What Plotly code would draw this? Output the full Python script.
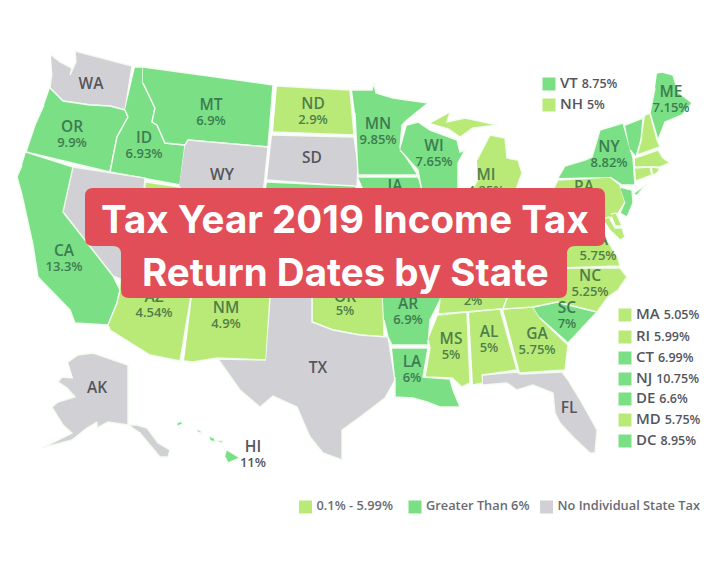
import plotly.graph_objects as go

# --- data ----------------------------------------------------------------
# state -> printed top income tax rate (None = no individual state tax)
rates = {
 "WA":None,"OR":9.9,"CA":13.3,"NV":None,"ID":6.93,"MT":6.9,"WY":None,"UT":4.95,"AZ":4.54,"NM":4.9,
 "ND":2.9,"SD":None,"NE":6.84,"KS":5.7,"OK":5,"TX":None,"MN":9.85,"IA":8.98,"MO":5.4,"AR":6.9,"LA":6,
 "WI":7.65,"IL":4.95,"MI":4.25,"IN":3.23,"OH":4.8,"KY":5,"TN":2,"MS":5,"AL":5,"GA":5.75,"FL":None,
 "SC":7,"NC":5.25,"VA":5.75,"WV":5.5,"PA":3.07,"NY":8.82,"ME":7.15,"AK":None,"HI":11,"CO":4.63,
 "VT":8.75,"NH":5,"MA":5.05,"RI":5.99,"CT":6.99,"NJ":10.75,"DE":6.6,"MD":5.75,
}
# states the picture's map paints in the lighter green despite their printed rate
painted_light = ["CT","DE"]
# outlines (no base map can be fetched offline)
outlines = {
 "WA":[(51,55),(60,62),(72,68),(70,75),(76,62),(75,51),(132,66),(125,110),(110,106),(90,105),(63,101),(50,88),(52,73)],
 "OR":[(50,88),(63,101),(90,105),(110,106),(125,110),(128,117),(117,137),(110,172),(26,152),(35,125),(44,105)],
 "ID":[(135,67),(143,67),(143,83),(155,108),(152,122),(157,125),(165,143),(185,145),(180,185),(110,172),(117,137),(128,117),(125,110)],
 "MT":[(143,67),(273,85),(268,147),(188,140),(185,145),(165,143),(157,125),(152,122),(155,108),(143,83)],
 "ND":[(277,86),(350,90),(354,135),(273,132)],
 "SD":[(272,135),(354,137),(358,165),(357,187),(267,180)],
 "WY":[(185,145),(188,140),(268,147),(262,205),(178,195)],
 "NV":[(73,167),(145,178),(140,240),(122,280),(113,276),(63,212)],
 "CA":[(26,152),(73,167),(63,212),(113,276),(120,290),(117,303),(108,325),(75,323),(70,310),(55,295),(38,277),(33,245),(28,223),(22,195),(17,177),(22,165)],
 "UT":[(146,182),(180,187),(178,200),(205,205),(200,270),(135,262)],
 "AZ":[(122,262),(195,272),(180,361),(150,355),(110,330),(108,325),(117,303),(120,290)],
 "NM":[(195,272),(271,280),(266,360),(217,358),(193,362),(184,361)],
 "CO":[(205,205),(295,215),(290,275),(200,270)],
 "NE":[(267,182),(355,186),(368,200),(375,240),(320,235),(320,220),(262,215)],
 "KS":[(290,215),(375,222),(382,275),(285,270)],
 "OK":[(275,272),(382,275),(384,337),(360,335),(333,330),(312,322),(312,285),(275,282)],
 "TX":[(272,280),(312,282),(312,322),(333,330),(360,335),(388,337),(395,380),(385,398),(360,417),(342,430),(342,460),(323,453),(310,437),(297,407),(273,396),(260,407),(240,390),(218,359),(266,360)],
 "MN":[(352,90),(372,90),(374,83),(376,93),(393,98),(428,103),(407,120),(402,125),(400,148),(418,175),(358,175),(355,113)],
 "IA":[(358,177),(418,177),(425,195),(430,205),(420,235),(375,235),(368,200)],
 "MO":[(375,235),(420,235),(440,270),(445,280),(382,283),(382,275)],
 "AR":[(382,283),(445,280),(440,300),(430,320),(428,345),(392,345),(388,337),(384,320)],
 "LA":[(392,348),(428,348),(423,377),(450,379),(453,390),(460,407),(440,407),(427,402),(413,398),(395,397),(395,377)],
 "WI":[(407,125),(418,122),(430,130),(457,140),(460,152),(465,150),(458,163),(458,192),(422,192),(418,170),(400,150)],
 "IL":[(425,195),(458,195),(465,250),(445,270),(430,240)],
 "MI":[(430,123),(450,112),(447,122),(465,118),(497,125),(473,128),(460,137),(447,128),None,
       (477,160),(490,135),(505,138),(507,158),(518,160),(522,173),(515,192),(470,192),(478,180)],
 "IN":[(458,195),(490,195),(490,245),(465,255)],
 "OH":[(490,195),(530,190),(535,225),(510,245),(490,240)],
 "KY":[(445,275),(465,255),(490,245),(510,245),(525,260),(505,272),(445,280)],
 "TN":[(445,280),(535,270),(530,280),(510,290),(503,309),(438,314),(440,300)],
 "MS":[(438,315),(467,312),(470,383),(462,387),(452,378),(425,377),(430,348),(428,340)],
 "AL":[(469,312),(500,309),(517,370),(482,375),(483,383),(473,385)],
 "GA":[(503,309),(533,307),(540,318),(568,345),(565,370),(520,373)],
 "SC":[(533,307),(557,302),(577,307),(597,312),(568,343),(540,318)],
 "FL":[(483,375),(517,372),(520,374),(562,372),(568,380),(582,403),(597,430),(595,453),(590,453),(573,437),(560,423),(555,413),(553,393),(533,385),(517,390),(507,383),(483,385)],
 "NC":[(560,268),(620,268),(627,277),(618,290),(608,297),(597,312),(577,307),(557,302),(533,307),(503,309),(510,290),(530,280)],
 "VA":[(505,270),(540,255),(575,220),(600,225),(607,240),(618,258),(620,266),(560,268)],
 "WV":[(535,210),(560,225),(540,255),(525,260),(510,245)],
 "PA":[(553,190),(558,180),(610,177),(620,185),(625,202),(617,215),(605,220),(560,225)],
 "NY":[(558,178),(565,166),(585,160),(592,157),(600,130),(623,123),(633,158),(635,185),(622,185),(610,177),None,(634,193),(647,184),(637,195)],
 "VT":[(625,125),(643,118),(641,140),(636,157),(630,150)],
 "NH":[(645,115),(650,113),(657,140),(660,147),(637,155),(642,137)],
 "ME":[(657,73),(662,72),(673,75),(678,92),(692,103),(682,115),(665,122),(658,140),(650,113),(655,88)],
 "MA":[(635,158),(658,150),(663,158),(670,163),(660,167),(635,167)],
 "CT":[(635,168),(650,167),(652,175),(636,181)],
 "RI":[(652,167),(660,168),(657,173),(653,175)],
 "NJ":[(620,187),(632,190),(633,203),(627,217),(620,213),(625,202)],
 "DE":[(611,214),(616,213),(622,226),(616,226)],
 "MD":[(603,219),(609,217),(615,228),(622,228),(625,237),(620,240),(612,232)],
 "AK":[(68,362),(78,355),(93,353),(128,365),(128,425),(137,425),(147,428),(158,443),(170,450),(168,457),(160,457),(150,445),(140,433),(128,425),(108,422),(97,428),(97,422),(87,428),(72,440),(42,448),(72,433),(63,425),(52,407),(58,402),(75,397),(67,388),(58,382),(62,377),(73,378)],
 "HI":[(177,423),(181,421),(183,424),(178,426),None,(197,429),(201,431),(202,434),(198,432),None,(209,436),(214,438),(216,442),(211,441),None,(216,440),(223,441),(222,443),None,(227,450),(240,458),(228,463),(225,457)],
}
# where each state's printed name sits on the picture
label_states = ["WA","OR","ID","MT","ND","SD","WY","CA","MN","WI","MI","IA","NY","ME","PA","VA","NC","SC","GA","AL","MS","LA","AR","OK","TN","AZ","NM","TX","AK","HI","FL"]
label_x = [91,72,144,211,313,312,222,64,378,434,486,395,609,671,584,598,590,567,537,489,451,412,408,345,473,154,226,318,97,253,569]
label_y = [85,128,139,106,105,159,176,252,125,147,176,187,148,93,188,241,277,309,335,333,340,363,305,298,288,298,309,369,389,448,409]

side_states = ["VT","NH","MA","RI","CT","NJ","DE","MD","DC"]
side_rates = [8.75,5,5.05,5.99,6.99,10.75,6.6,5.75,8.95]
side_x = [549,549,625,625,625,625,625,625,625]
side_y = [84,105,315,337,358,379,399,420,441]

key_labels = ["0.1% - 5.99%","Greater Than 6%","No Individual State Tax"]
key_x = [305.5,415,546.5]
key_y = [507,507,507]

title_lines = ["Tax Year 2019 Income Tax","Return Dates by State"]

# --- styles ---------------------------------------------------------------
GREEN, LIGHT, GREY = "#7ADF85", "#B9EA78", "#D1D1D5"
INK_G, INK_L, INK_N = "#3C7D50", "#4F7F48", "#55565C"
BANNER = "#E14E58"
def fill(r):
    return GREY if r is None else (LIGHT if r < 6 else GREEN)
def ink(s):
    r = rates[s]
    if r is None or s == "HI":
        return INK_N
    return INK_L if r < 6 else INK_G
def pct(r):
    return f"{r:g}%"

fig = go.Figure()
for st, pts in outlines.items():
    xs = [None if p is None else p[0] for p in pts]
    ys = [None if p is None else p[1] for p in pts]
    colour = LIGHT if st in painted_light else fill(rates[st])
    fig.add_trace(go.Scatter(x=xs, y=ys, mode="lines", fill="toself", fillcolor=colour,
                             line=dict(color="#F2FCF0", width=1.4), name=st, hoverinfo="name"))

fig.add_trace(go.Scatter(x=label_x, y=label_y, mode="text", text=label_states,
    textfont=dict(family="Open Sans", size=15.5, weight=600, color=[ink(s) for s in label_states]),
    hoverinfo="skip"))
val_states = [s for s in label_states if rates[s] is not None]
val_x = [x for x, s in zip(label_x, label_states) if rates[s] is not None]
val_y = [y + (14 if s in ("TN","OK") else 16) for y, s in zip(label_y, label_states) if rates[s] is not None]
fig.add_trace(go.Scatter(x=val_x, y=val_y, mode="text", text=[pct(rates[s]) for s in val_states],
    textfont=dict(family="Open Sans", size=13, weight=600, color=[ink(s) for s in val_states]),
    hoverinfo="skip"))

# side key
fig.add_trace(go.Scatter(x=side_x, y=side_y, mode="markers",
    marker=dict(symbol="square", size=13, color=[fill(r) for r in side_rates]), hoverinfo="skip"))
fig.add_trace(go.Scatter(x=[x + 11 for x in side_x], y=side_y, mode="text", textposition="middle right",
    text=[f"{s} <span style='font-size:12.5px'>{pct(r)}</span>" for s, r in zip(side_states, side_rates)],
    textfont=dict(family="Open Sans", size=15, weight=600, color=INK_N), hoverinfo="skip"))

# bottom key
fig.add_trace(go.Scatter(x=key_x, y=key_y, mode="markers",
    marker=dict(symbol="square", size=13, color=[LIGHT, GREEN, GREY]), hoverinfo="skip"))
fig.add_trace(go.Scatter(x=[x + 11 for x in key_x], y=key_y, mode="text", textposition="middle right",
    text=key_labels, textfont=dict(family="Open Sans", size=12.8, weight=600, color="#6A6B70"), hoverinfo="skip"))

# red banner (two stacked rounded boxes) drawn over the map
banner = ("M 93 188 L 597 188 Q 605 188 605 196 L 605 238 Q 605 246 597 246 L 575 246 Q 567 246 567 254 "
          "L 567 290 Q 567 298 559 298 L 129 298 Q 121 298 121 290 L 121 254 Q 121 246 113 246 L 93 246 "
          "Q 85 246 85 238 L 85 196 Q 85 188 93 188 Z")
fig.add_shape(type="path", path=banner, xref="x", yref="y", fillcolor=BANNER, line=dict(width=0), layer="above")
for line, cx, cy in zip(title_lines, [345,345], [219,272]):
    fig.add_annotation(x=cx, y=cy, xref="x", yref="y", text=line, showarrow=False,
                       font=dict(family="Inter", size=38.5, weight=700, color="white"))

# the page keeps an 8px body margin, so the axes run over the photographed window's pixels from 8 on
fig.update_layout(width=704, height=548, margin=dict(l=0, r=0, t=0, b=0), showlegend=False,
                  paper_bgcolor="white", plot_bgcolor="white",
                  xaxis=dict(range=[8, 712], visible=False, fixedrange=True),
                  yaxis=dict(range=[556, 8], visible=False, fixedrange=True))
fig.write_html("out.html")
